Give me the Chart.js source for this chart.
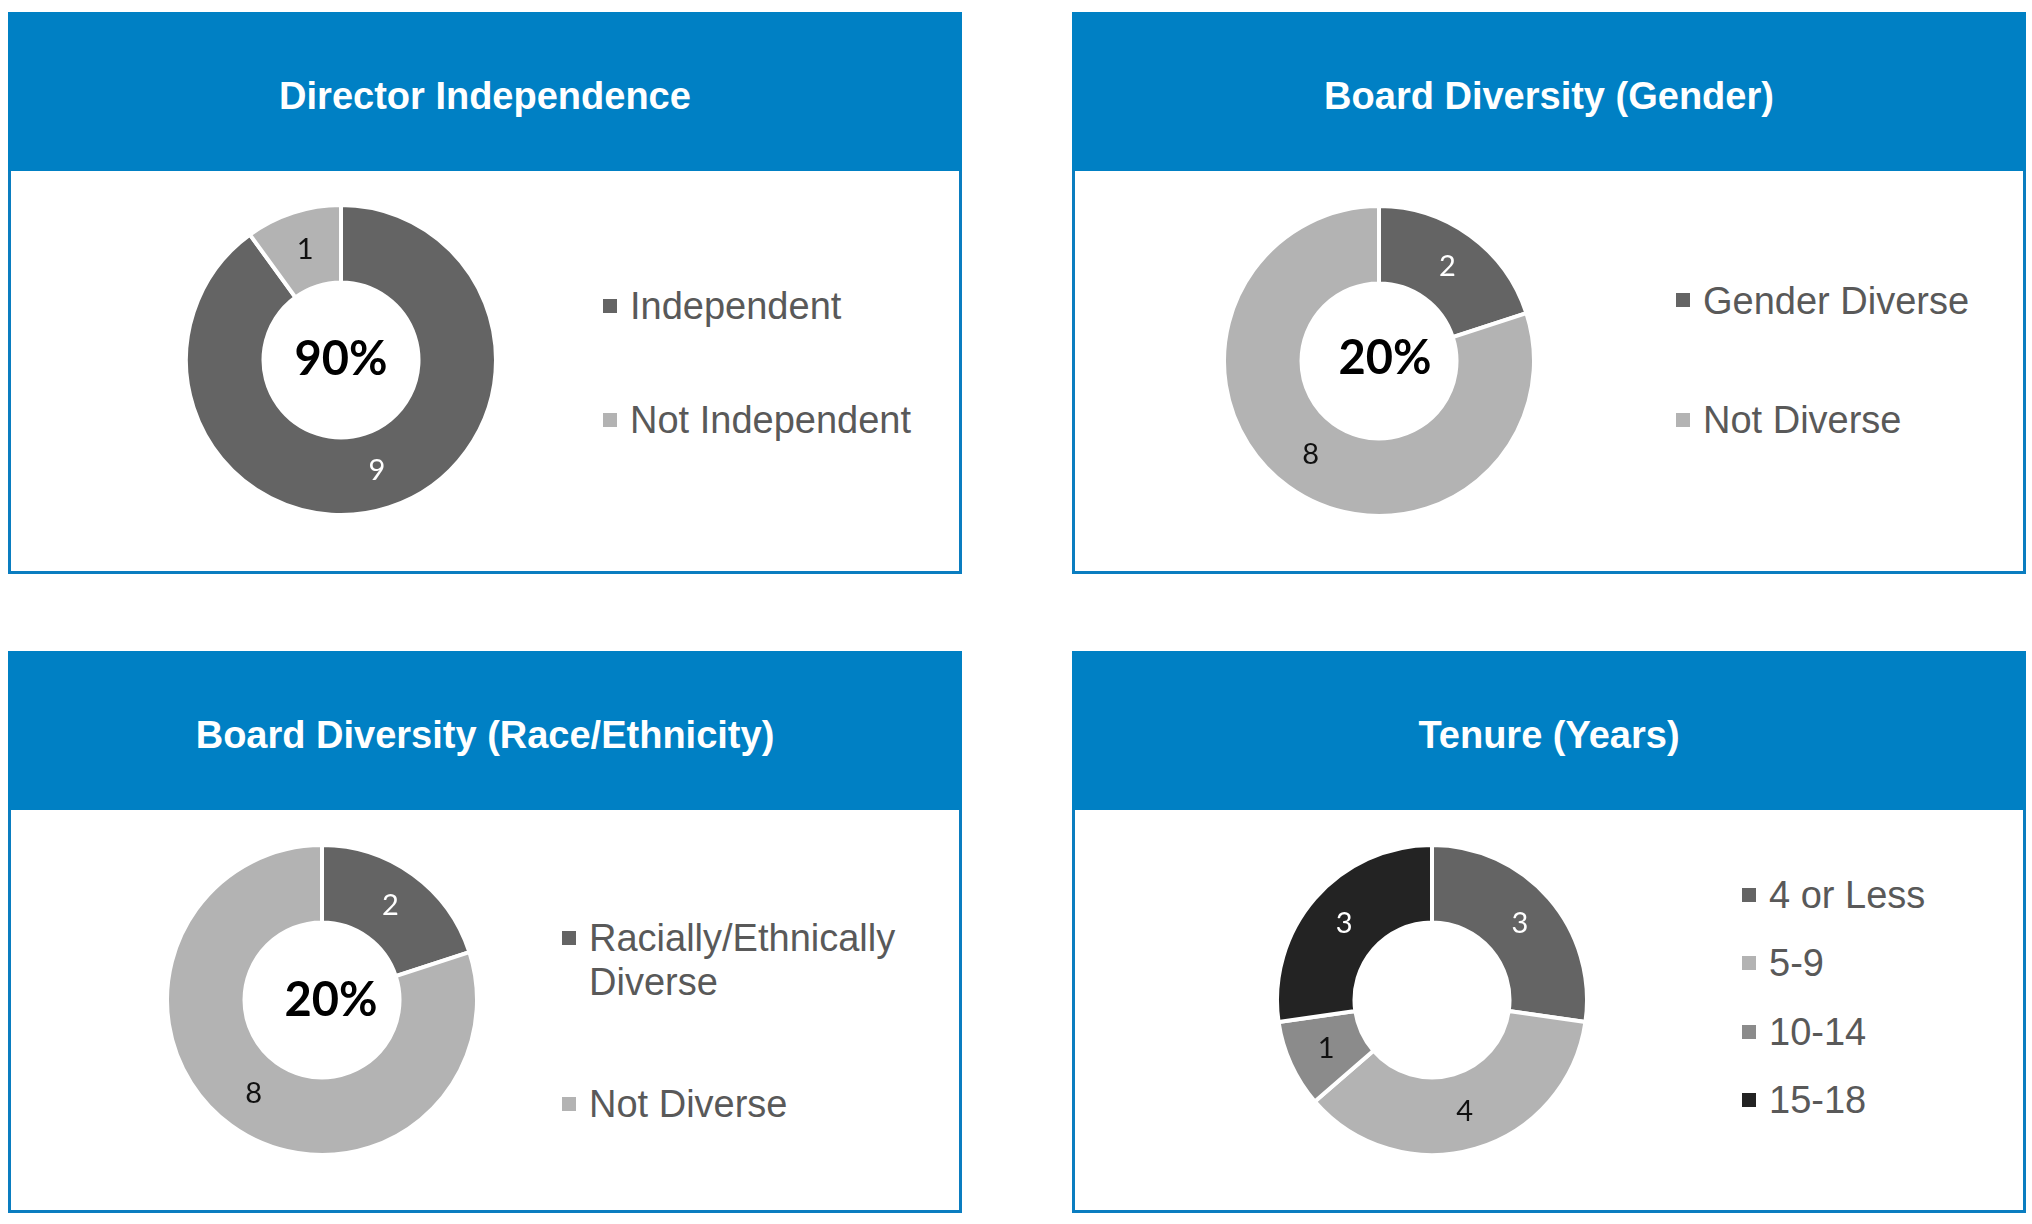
<!DOCTYPE html>
<html>
<head>
<meta charset="utf-8">
<script src="https://cdn.jsdelivr.net/npm/chart.js@4.4.1/dist/chart.umd.min.js"></script>
<style>
	body { margin: 0; background: #fff; width: 2032px; height: 1224px; position: relative; overflow: hidden; }
	.panel { position: absolute; width: 954px; height: 562px; border: 3px solid #0a7dc0; box-sizing: border-box; background: #fff; }
	.header { position: absolute; left: -3px; right: -3px; top: -3px; height: 159px; background: #0080c4; }
	.title { position: absolute; left: 0; right: 0; top: 62px; line-height: 44px; text-align: center;
		font-family: "Liberation Sans", Arial, sans-serif; font-weight: bold; font-size: 38px; color: #fff; }
	.chartBox { position: absolute; }
	.legItem { position: absolute; font-family: "Liberation Sans", Arial, sans-serif; font-size: 38px; line-height: 44px; color: #595959; }
	.legMark { position: absolute; width: 14px; height: 14px; }
</style>
</head>
<body>
<script>
/* 데이터 */
var independenceLabels = ['Independent', 'Not Independent'];
var independenceValues = [9, 1];
var genderLabels = ['Gender Diverse', 'Not Diverse'];
var genderValues = [2, 8];
var raceLabels = ['Racially/Ethnically Diverse', 'Not Diverse'];
var raceValues = [2, 8];
var tenureLabels = ['4 or Less', '5-9', '10-14', '15-18'];
var tenureValues = [3, 4, 1, 3];

/* 색상 */
var dark = '#646464';
var light = '#b3b3b3';
var mid = '#8b8b8b';
var black = '#232323';

/* 패널 배치 */
var panels = [
	{ title: 'Director Independence', labels: independenceLabels, values: independenceValues,
	  colors: [dark, light], textColors: ['#fff', '#111'], center: true, cdx: 0, cdy: 0,
	  left: 8, top: 12, cx: 340.5, cy: 360, legX: 603, legBase: [319, 433] },
	{ title: 'Board Diversity (Gender)', labels: genderLabels, values: genderValues,
	  colors: [dark, light], textColors: ['#fff', '#111'], center: true, cdx: 6, cdy: -2,
	  left: 1072, top: 12, cx: 1378.5, cy: 361, legX: 1676, legBase: [313.5, 433] },
	{ title: 'Board Diversity (Race/Ethnicity)', labels: raceLabels, values: raceValues,
	  colors: [dark, light], textColors: ['#fff', '#111'], center: true, cdx: 9, cdy: 1,
	  left: 8, top: 651, cx: 322, cy: 1000, legX: 562, legBase: [951, 1117] },
	{ title: 'Tenure (Years)', labels: tenureLabels, values: tenureValues,
	  colors: [dark, light, mid, black], textColors: ['#fff', '#111', '#111', '#fff'], center: false,
	  left: 1072, top: 651, cx: 1431.5, cy: 999.5, legX: 1742, legBase: [908, 976, 1045, 1113] }
];

/* 조각 위 숫자 */
var arcLabelPlugin = {
	id: 'arcLabels',
	afterDatasetsDraw: function(chart) {
		var ctx = chart.ctx;
		var meta = chart.getDatasetMeta(0);
		var cols = chart.options.plugins.arcLabels.colors;
		ctx.save();
		ctx.font = '29px Lato, "Open Sans", sans-serif';
		ctx.textAlign = 'center';
		ctx.textBaseline = 'middle';
		meta.data.forEach(function(arc, i) {
			var p = arc.getCenterPoint();
			ctx.fillStyle = cols[i];
			ctx.fillText(chart.data.datasets[0].data[i], p.x, p.y);
		});
		ctx.restore();
	}
};

/* 가운데 퍼센트 */
var centerTextPlugin = {
	id: 'centerText',
	afterDraw: function(chart) {
		var opt = chart.options.plugins.centerText;
		if (!opt.show) return;
		var data = chart.data.datasets[0].data;
		var total = data.reduce(function(a, b) { return a + b; }, 0);
		var arc = chart.getDatasetMeta(0).data[0];
		var ctx = chart.ctx;
		ctx.save();
		ctx.font = 'bold 47px Lato, "Open Sans", sans-serif';
		ctx.fillStyle = '#000';
		ctx.textAlign = 'center';
		ctx.textBaseline = 'middle';
		ctx.fillText(Math.round(data[0] / total * 100) + '%', arc.x + opt.dx, arc.y + opt.dy);
		ctx.restore();
	}
};

function createPanel(p) {
	var panel = document.createElement('div');
	panel.className = 'panel';
	panel.style.left = p.left + 'px';
	panel.style.top = p.top + 'px';
	panel.innerHTML = '<div class="header"><div class="title"></div></div>';
	panel.querySelector('.title').textContent = p.title;
	document.body.appendChild(panel);

	/* 도넛 */
	var size = 314;
	var box = document.createElement('div');
	box.className = 'chartBox';
	box.style.left = (p.cx - size / 2) + 'px';
	box.style.top = (p.cy - size / 2) + 'px';
	var canvas = document.createElement('canvas');
	canvas.width = size;
	canvas.height = size;
	box.appendChild(canvas);
	document.body.appendChild(box);

	new Chart(canvas.getContext('2d'), {
		type: 'doughnut',
		data: {
			labels: p.labels,
			datasets: [{
				data: p.values,
				backgroundColor: p.colors,
				borderColor: '#fff',
				borderWidth: 4
			}]
		},
		options: {
			responsive: false,
			animation: false,
			cutout: '50%',
			layout: { padding: 0 },
			plugins: {
				legend: { display: false },
				tooltip: { enabled: false },
				arcLabels: { colors: p.textColors },
				centerText: { show: p.center, dx: p.cdx || 0, dy: p.cdy || 0 }
			}
		},
		plugins: [arcLabelPlugin, centerTextPlugin]
	});

	/* 범례 */
	p.labels.forEach(function(label, i) {
		var base = p.legBase[i];
		var mark = document.createElement('div');
		mark.className = 'legMark';
		mark.style.background = p.colors[i];
		mark.style.left = p.legX + 'px';
		mark.style.top = (base - 20.5) + 'px';
		document.body.appendChild(mark);

		var item = document.createElement('div');
		item.className = 'legItem';
		item.style.left = (p.legX + 27) + 'px';
		item.style.top = (base - 35) + 'px';
		item.style.width = '360px';
		item.textContent = label;
		document.body.appendChild(item);
	});
}

panels.forEach(createPanel);
</script>
</body>
</html>
